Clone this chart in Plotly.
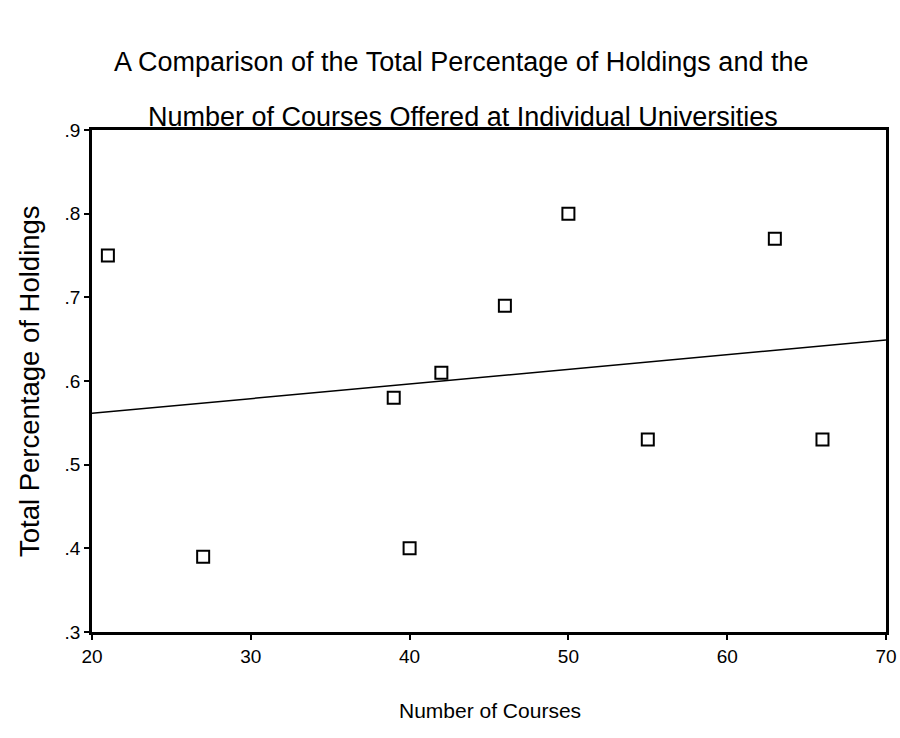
import numpy as np
import plotly.graph_objects as go

courses = [21, 27, 39, 40, 42, 46, 50, 55, 63, 66]
holdings = [0.75, 0.39, 0.58, 0.40, 0.61, 0.69, 0.80, 0.53, 0.77, 0.53]
x_ticks = [20, 30, 40, 50, 60, 70]
y_ticks = [0.3, 0.4, 0.5, 0.6, 0.7, 0.8, 0.9]
y_tick_labels = [".3", ".4", ".5", ".6", ".7", ".8", ".9"]
title_lines = ["A Comparison of the Total Percentage of Holdings and the",
               "Number of Courses Offered at Individual Universities"]
x_title = "Number of Courses"
y_title = "Total Percentage of Holdings"

slope, intercept = np.polyfit(courses, holdings, 1)
fit_x = [20, 70]
fit_y = [intercept + slope * v for v in fit_x]

FONT = "Liberation Sans, Arial, sans-serif"
L, R, T, B = 92, 14, 130, 106
W, H = 900, 738
PW, PH = W - L - R, H - T - B


def px(xpix):
    return (xpix - L) / PW


def py(ypix):
    return (H - B - ypix) / PH


fig = go.Figure()
fig.add_trace(go.Scatter(x=fit_x, y=fit_y, mode="lines",
                         line=dict(color="black", width=1.5), showlegend=False))
fig.add_trace(go.Scatter(x=courses, y=holdings, mode="markers",
                         marker=dict(symbol="square-open", size=12,
                                     color="black", line=dict(width=2, color="black")),
                         showlegend=False))

fig.update_layout(
    width=W, height=H,
    margin=dict(l=L, r=R, t=T, b=B, autoexpand=False),
    paper_bgcolor="white", plot_bgcolor="white",
    font=dict(family=FONT, color="black"),
    xaxis=dict(range=[20, 70], tickvals=x_ticks, ticktext=[str(v) for v in x_ticks],
               showgrid=False, zeroline=False, showline=True, linecolor="black",
               linewidth=2.5, mirror=True, ticks="outside", ticklen=5, tickwidth=1.5,
               tickcolor="black", tickfont=dict(size=19), automargin=False),
    yaxis=dict(range=[0.3, 0.9], tickvals=y_ticks, ticktext=y_tick_labels,
               showgrid=False, zeroline=False, showline=True, linecolor="black",
               linewidth=2.5, mirror=True, ticks="outside", ticklen=5, tickwidth=1.5,
               tickcolor="black", tickfont=dict(size=19), automargin=False),
)

fig.add_annotation(text=title_lines[0], xref="paper", yref="paper",
                   x=px(461), y=py(62), showarrow=False,
                   xanchor="center", yanchor="middle", font=dict(size=27))
fig.add_annotation(text=title_lines[1], xref="paper", yref="paper",
                   x=px(463), y=py(117), showarrow=False,
                   xanchor="center", yanchor="middle", font=dict(size=27))
fig.add_annotation(text=x_title, xref="paper", yref="paper",
                   x=px(490), y=py(710), showarrow=False,
                   xanchor="center", yanchor="middle", font=dict(size=21))
fig.add_annotation(text=y_title, xref="paper", yref="paper",
                   x=px(29), y=py(381), showarrow=False, textangle=-90,
                   xanchor="center", yanchor="middle", font=dict(size=27.5))

fig.write_html("out.html", config={"displayModeBar": False},
               post_script="document.body.style.margin='0';document.body.style.overflow='hidden';")
